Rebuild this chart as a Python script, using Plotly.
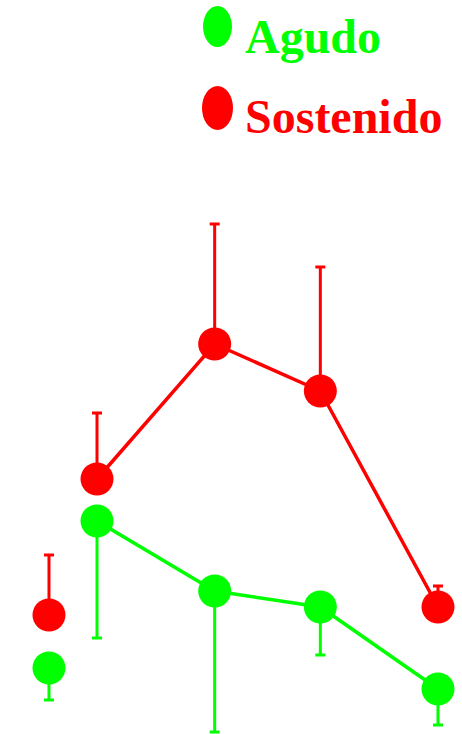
import plotly.graph_objects as go

# time points (arbitrary units) and series values
x_vals = [0, 1, 3.45, 5.65, 8.1]

agudo = [6.6, 21.3, 14.3, 12.7, 4.5]
agudo_err_down = [3.2, 11.7, 14.1, 4.8, 3.6]

sostenido = [11.9, 25.5, 39.0, 34.3, 12.7]
sostenido_err_up = [6.0, 6.6, 12.0, 12.4, 2.1]

GREEN = '#00FF00'
RED = '#FF0000'

fig = go.Figure()

# connecting lines (first point stays unconnected)
fig.add_trace(go.Scatter(x=x_vals[1:], y=sostenido[1:], mode='lines',
                         line=dict(color=RED, width=3.5), showlegend=False))
fig.add_trace(go.Scatter(x=x_vals[1:], y=agudo[1:], mode='lines',
                         line=dict(color=GREEN, width=3.5), showlegend=False))

# markers with one-sided error bars
fig.add_trace(go.Scatter(
    x=x_vals, y=sostenido, mode='markers', name='Sostenido',
    marker=dict(color=RED, size=33, line=dict(width=0)),
    error_y=dict(type='data', symmetric=False, array=sostenido_err_up,
                 arrayminus=[0] * len(sostenido), color=RED, thickness=3, width=5),
    showlegend=False))
fig.add_trace(go.Scatter(
    x=x_vals, y=agudo, mode='markers', name='Agudo',
    marker=dict(color=GREEN, size=33, line=dict(width=0)),
    error_y=dict(type='data', symmetric=False, array=[0] * len(agudo),
                 arrayminus=agudo_err_down, color=GREEN, thickness=3, width=5),
    showlegend=False))

# hand-made legend (big ellipses + bold serif labels)
W, H = 462, 734
def px_x(v):
    return v / W
def px_y(v):
    return 1 - v / H

fig.add_shape(type='circle', xref='paper', yref='paper',
              x0=px_x(203), x1=px_x(232), y0=px_y(47), y1=px_y(6),
              fillcolor=GREEN, line=dict(width=0))
fig.add_shape(type='circle', xref='paper', yref='paper',
              x0=px_x(202), x1=px_x(233), y0=px_y(130), y1=px_y(86),
              fillcolor=RED, line=dict(width=0))
fig.add_annotation(text='<b>Agudo</b>', xref='paper', yref='paper',
                   x=px_x(243), y=px_y(36), xanchor='left', yanchor='middle',
                   showarrow=False, font=dict(family='Liberation Serif', size=48, color=GREEN))
fig.add_annotation(text='<b>Sostenido</b>', xref='paper', yref='paper',
                   x=px_x(243), y=px_y(116), xanchor='left', yanchor='middle',
                   showarrow=False, font=dict(family='Liberation Serif', size=48, color=RED))

fig.update_xaxes(range=[-1.02, 8.6], visible=False)
fig.update_yaxes(range=[0, 73.4], visible=False)
fig.update_layout(
    width=W, height=H,
    margin=dict(l=0, r=0, t=0, b=0),
    paper_bgcolor='white', plot_bgcolor='white',
    showlegend=False,
)

fig.write_html("out.html", config={'displayModeBar': False},
               post_script="document.body.style.margin='0';")
